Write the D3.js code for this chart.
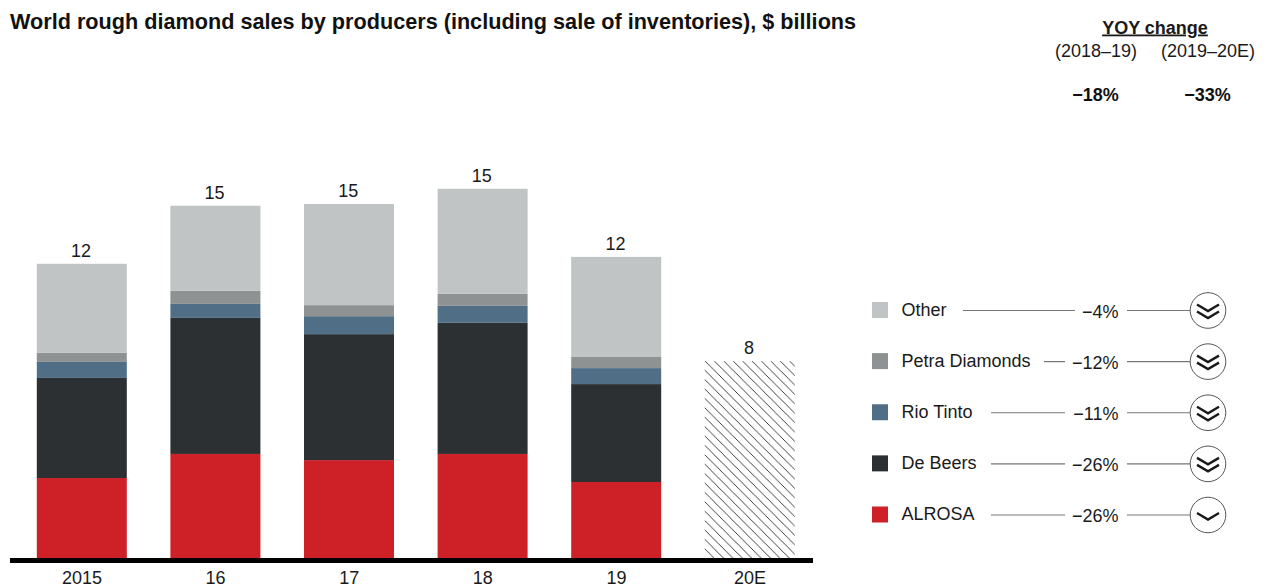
<!DOCTYPE html>
<html><head><meta charset="utf-8">
<script src="https://cdn.jsdelivr.net/npm/d3@7"></script>
<style>
html,body{margin:0;padding:0;background:#fff}
svg{display:block}
text{font-family:"Liberation Sans",Arial,sans-serif;fill:#1a1a1a}
</style></head><body>
<svg id="c" width="1266" height="585"></svg>
<script>
const years = ["2015","16","17","18","19","20E"];
const seriesNames = ["ALROSA","De Beers","Rio Tinto","Petra Diamonds","Other"];
const seriesColors = ["#cd2027","#2d3033","#506e85","#8f9293","#c0c4c4"];
const alrosa = [3.25,4.23,3.98,4.23,3.09,0];
const deBeers = [4.07,5.53,5.12,5.33,3.98,0];
const rioTinto = [0.65,0.57,0.73,0.69,0.65,0];
const petra = [0.37,0.53,0.45,0.49,0.45,0];
const other = [3.62,3.46,4.11,4.27,4.07,0];
const estimate = [0,0,0,0,0,8];
const totalLabels = ["12","15","15","15","12","8"];
const legendOrder = ["Other","Petra Diamonds","Rio Tinto","De Beers","ALROSA"];
const yoyValues = ["−4%","−12%","−11%","−26%","−26%"];
const chevrons = [2,2,2,2,1];
const yoyHeader = ["(2018–19)","(2019–20E)"];
const yoyTotals = ["−18%","−33%"];

const svg = d3.select("#c");
const baseY = 558;
const fs = 18;
const x = d3.scaleBand().domain(years).range([36.8,794.8]).paddingInner(0.3263).paddingOuter(0);
const y = d3.scaleLinear().domain([0,15]).range([baseY,189]);
const colorOf = d3.scaleOrdinal().domain(seriesNames).range(seriesColors);

const defs = svg.append("defs");
const pat = defs.append("pattern").attr("id","hatch").attr("patternUnits","userSpaceOnUse")
  .attr("width",9.4).attr("height",9.4).attr("patternTransform","translate(705 361)");
pat.append("path").attr("d","M-1,-1 L10.4,10.4 M-1,8.4 L1,10.4 M8.4,-1 L10.4,1")
  .attr("stroke","#111").attr("stroke-width",0.8).attr("fill","none");

svg.append("text").attr("x",10).attr("y",28.5).attr("font-size",21.65).attr("font-weight","bold")
  .style("fill","#111").text("World rough diamond sales by producers (including sale of inventories), $ billions");

const rows = years.map((yr,i)=>({year:yr,ALROSA:alrosa[i],"De Beers":deBeers[i],"Rio Tinto":rioTinto[i],"Petra Diamonds":petra[i],Other:other[i]}));
const stacked = d3.stack().keys(seriesNames)(rows);
svg.append("g").selectAll("g").data(stacked).join("g").attr("fill",d=>colorOf(d.key))
  .selectAll("rect").data(d=>d).join("rect")
  .attr("x",d=>x(d.data.year)).attr("width",x.bandwidth())
  .attr("y",d=>y(d[1])).attr("height",d=>y(d[0])-y(d[1]));

svg.append("g").selectAll("rect").data(years.map((yr,i)=>({yr,v:estimate[i]})).filter(d=>d.v>0)).join("rect")
  .attr("x",d=>x(d.yr)).attr("width",x.bandwidth())
  .attr("y",d=>y(d.v)).attr("height",d=>baseY-y(d.v)).attr("fill","url(#hatch)");

const totals = years.map((yr,i)=>alrosa[i]+deBeers[i]+rioTinto[i]+petra[i]+other[i]+estimate[i]);
svg.append("g").selectAll("text").data(years).join("text")
  .attr("x",d=>x(d)+x.bandwidth()/2-0.8).attr("y",(d,i)=>y(totals[i])-7)
  .attr("text-anchor","middle").attr("font-size",fs).text((d,i)=>totalLabels[i]);

svg.append("rect").attr("x",10).attr("y",baseY).attr("width",803).attr("height",5).attr("fill","#000");

const axis = d3.axisBottom(x).tickSize(0).tickPadding(0);
const ax = svg.append("g").attr("transform",`translate(0,${baseY})`).call(axis);
ax.select(".domain").remove();
ax.selectAll("text").attr("font-size",fs).attr("y",0).attr("dy",null)
  .attr("transform","translate(0.2,25.5)");
ax.attr("font-family",null).attr("font-size",null);

// header on the right
svg.append("text").attr("x",1155).attr("y",33.5).attr("text-anchor","middle").attr("font-size",fs)
  .attr("font-weight","bold").attr("text-decoration","underline").text("YOY change");
const headX = d3.scalePoint().domain([0,1]).range([1096,1208]);
yoyHeader.forEach((t,i)=>svg.append("text").attr("x",headX(i)).attr("y",57).attr("text-anchor","middle").attr("font-size",fs).text(t));
yoyTotals.forEach((t,i)=>svg.append("text").attr("x",i?1207.5:1095.5).attr("y",101).attr("text-anchor","middle").attr("font-size",fs).attr("font-weight","bold").style("fill","#111").text(t));

// legend
const rowY = d3.scalePoint().domain(legendOrder).range([310.5,515]);
const ruleStart = [963,1044,991,991,991];
const ruleEnd = [1075,1065,1065,1065,1065];
const lg = svg.append("g").selectAll("g").data(legendOrder).join("g")
  .attr("transform",d=>`translate(0,${rowY(d)})`);
lg.append("rect").attr("x",872).attr("y",-8.5).attr("width",16).attr("height",16).attr("fill",d=>colorOf(d));
lg.append("text").attr("x",901.5).attr("y",5).attr("font-size",fs).text(d=>d);
lg.append("line").attr("x1",(d,i)=>ruleStart[i]).attr("x2",(d,i)=>ruleEnd[i]).attr("stroke","#777").attr("stroke-width",1.2);
lg.append("text").attr("x",1118.5).attr("y",7).attr("text-anchor","end").attr("font-size",fs).text((d,i)=>yoyValues[i]);
lg.append("line").attr("x1",1127).attr("x2",1190).attr("stroke","#777").attr("stroke-width",1.2);
lg.append("circle").attr("cx",1208).attr("cy",0).attr("r",17.8).attr("fill","#fff").attr("stroke","#555").attr("stroke-width",1);
lg.each(function(d,i){
  const g = d3.select(this), n = chevrons[i];
  d3.range(n).forEach(k=>{
    const dy = n===1 ? -2 : -6 + k*7;
    g.append("path").attr("d",`M1197,${dy} L1208,${dy+6.5} L1219,${dy}`)
      .attr("fill","none").attr("stroke","#1a1a1a").attr("stroke-width",2.4);
  });
});
</script>
</body></html>
